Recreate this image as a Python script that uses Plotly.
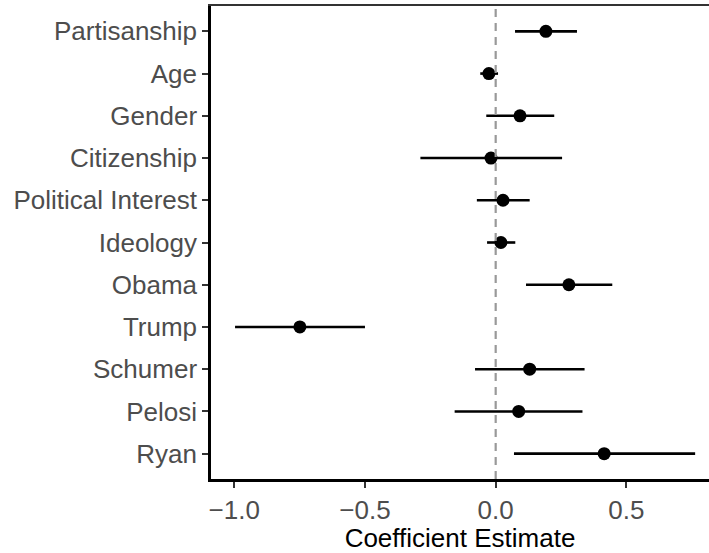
import plotly.graph_objects as go

# Coefficient estimates with 95% intervals, one row per predictor
terms = ["Partisanship", "Age", "Gender", "Citizenship", "Political Interest",
         "Ideology", "Obama", "Trump", "Schumer", "Pelosi", "Ryan"]
estimate = [0.192, -0.026, 0.093, -0.018, 0.028, 0.020, 0.280, -0.749, 0.130, 0.088, 0.415]
ci_low = [0.074, -0.059, -0.036, -0.288, -0.072, -0.033, 0.116, -0.997, -0.079, -0.157, 0.070]
ci_high = [0.311, 0.009, 0.224, 0.254, 0.130, 0.075, 0.446, -0.500, 0.340, 0.332, 0.763]

x_ticks = [-1.0, -0.5, 0.0, 0.5]
x_tick_text = ["\u22121.0", "\u22120.5", "0.0", "0.5"]

err_plus = [h - e for h, e in zip(ci_high, estimate)]
err_minus = [e - l for e, l in zip(estimate, ci_low)]

FONT = "Liberation Sans, Arial, Helvetica, sans-serif"
X_RANGE = [-1.089, 0.816]

fig = go.Figure()
fig.add_trace(go.Scatter(
    x=estimate, y=terms, mode="markers",
    marker=dict(size=13, color="black"),
    error_x=dict(type="data", symmetric=False, array=err_plus, arrayminus=err_minus,
                 color="black", thickness=2.6, width=0),
    showlegend=False, hoverinfo="skip",
))
# empty trace so the top frame axis gets drawn
fig.add_trace(go.Scatter(
    x=[None], y=[None], xaxis="x2", yaxis="y", mode="markers",
    showlegend=False, hoverinfo="skip",
))

# reference line at zero
fig.add_shape(type="line", xref="x", yref="paper", x0=0, x1=0, y0=0, y1=1,
              line=dict(color="#999999", width=2.2, dash="8px,6px"), layer="above")

fig.update_layout(
    template="none",
    width=709, height=553,
    margin=dict(l=211, r=0, t=6, b=74),
    paper_bgcolor="white", plot_bgcolor="white",
    font=dict(family=FONT, size=26, color="#4D4D4D"),
    xaxis=dict(
        range=X_RANGE, tickvals=x_ticks, ticktext=x_tick_text,
        showgrid=False, zeroline=False,
        showline=True, linecolor="black", linewidth=2.5,
        ticks="outside", ticklen=6, tickwidth=2, tickcolor="#333333",
        tickfont=dict(family=FONT, size=26, color="#4D4D4D"),
        title=dict(text="Coefficient Estimate", standoff=6,
                   font=dict(family=FONT, size=26, color="black")),
    ),
    # thin frame line along the top of the panel
    xaxis2=dict(
        overlaying="x", side="top", range=X_RANGE,
        showline=True, linecolor="#333333", linewidth=1.5,
        showgrid=False, zeroline=False, showticklabels=False, ticks="",
    ),
    yaxis=dict(
        type="category", categoryorder="array", categoryarray=terms,
        range=[10.6, -0.6],
        showgrid=False, zeroline=False,
        showline=True, linecolor="black", linewidth=2.5,
        ticks="outside", ticklen=6, tickwidth=2, tickcolor="#333333",
        tickfont=dict(family=FONT, size=26, color="#4D4D4D"),
    ),
)

fig.write_html("out.html", config={"displayModeBar": False})
